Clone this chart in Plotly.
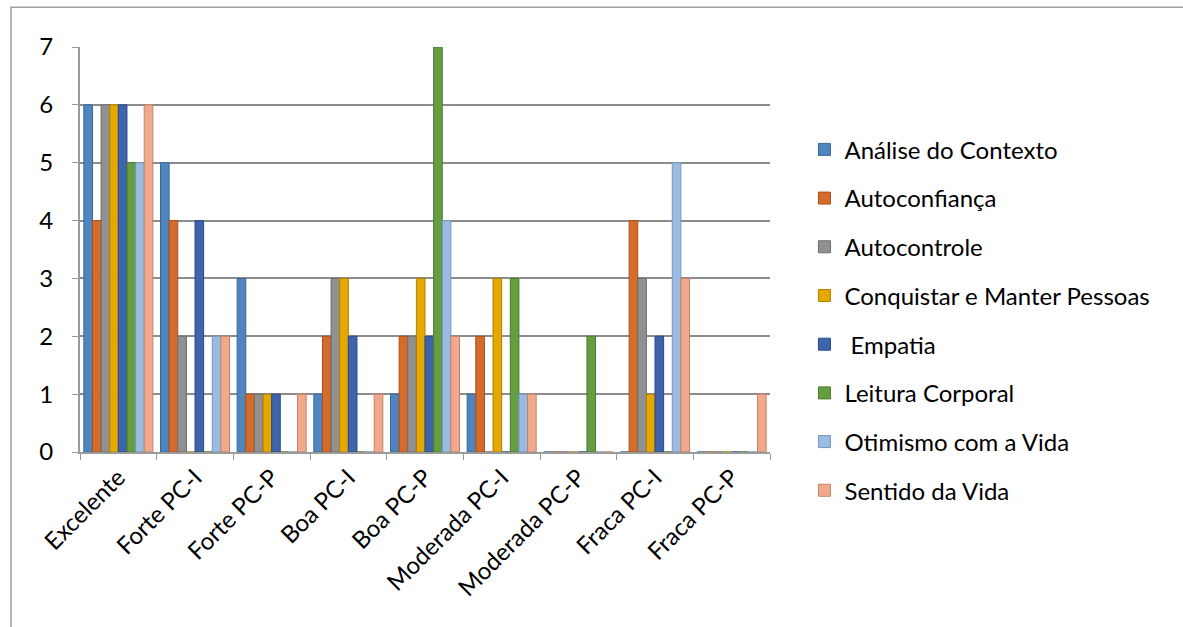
import plotly.graph_objects as go

categories = ["Excelente", "Forte PC-I", "Forte PC-P", "Boa PC-I", "Boa PC-P",
              "Moderada PC-I", "Moderada PC-P", "Fraca PC-I", "Fraca PC-P"]

analise_contexto = [6, 5, 3, 1, 1, 1, 0, 0, 0]
autoconfianca = [4, 4, 1, 2, 2, 2, 0, 4, 0]
autocontrole = [6, 2, 1, 3, 2, 0, 0, 3, 0]
conquistar_manter = [6, 0, 1, 3, 3, 3, 0, 1, 0]
empatia = [6, 4, 1, 2, 2, 0, 0, 2, 0]
leitura_corporal = [5, 0, 0, 0, 7, 3, 2, 0, 0]
otimismo_vida = [5, 2, 0, 0, 4, 1, 0, 5, 0]
sentido_vida = [6, 2, 1, 1, 2, 1, 0, 3, 1]

series = [
    ("Análise do Contexto", analise_contexto, "#4F86BF", "#3A6796"),
    ("Autoconfiança", autoconfianca, "#D66C2B", "#A8501C"),
    ("Autocontrole", autocontrole, "#919191", "#6C6C6C"),
    ("Conquistar e Manter Pessoas", conquistar_manter, "#E5A800", "#B08000"),
    (" Empatia", empatia, "#3D64AD", "#2B4A85"),
    ("Leitura Corporal", leitura_corporal, "#659E40", "#4A7A2D"),
    ("Otimismo com a Vida", otimismo_vida, "#9BBCE2", "#7596BC"),
    ("Sentido da Vida", sentido_vida, "#F1A98B", "#C4826A"),
]

FONT = "Lato, 'Open Sans', sans-serif"

fig = go.Figure()
for i, (name, vals, col, edge) in enumerate(series):
    fig.add_trace(go.Bar(
        name=name, x=categories, y=vals,
        marker=dict(color=col, line=dict(color=edge, width=1)),
        legendgroup=f"g{i}",
    ))

fig.update_layout(
    width=1183, height=627,
    paper_bgcolor="white", plot_bgcolor="white",
    margin=dict(l=80, r=413, t=47, b=175),
    barmode="group", bargap=0.1, bargroupgap=0,
    font=dict(family=FONT, size=24, color="black"),
    showlegend=True,
    legend=dict(
        xref="container", yref="container",
        x=0.68, y=0.797, xanchor="left", yanchor="top",
        font=dict(family=FONT, size=24, color="black"),
        tracegroupgap=14.5, itemwidth=30, maxheight=1,
        bgcolor="rgba(0,0,0,0)",
    ),
    xaxis=dict(
        type="category", tickangle=-45,
        showline=True, linecolor="#9a9a9a", linewidth=2,
        ticks="outside", ticklen=6, tickcolor="#9a9a9a",
        tickson="boundaries",
        tickfont=dict(family=FONT, size=24, color="black"),
        showgrid=False,
    ),
    yaxis=dict(
        range=[0, 7], dtick=1,
        showline=True, linecolor="#9a9a9a", linewidth=2,
        ticks="outside", ticklen=6, tickcolor="#9a9a9a",
        ticklabelstandoff=14,
        showgrid=True, gridcolor="#8c8c8c", gridwidth=2,
        zeroline=False,
        tickfont=dict(family=FONT, size=24, color="black"),
    ),
    shapes=[
        dict(type="rect", xref="paper", yref="paper",
             x0=-0.1, x1=1.6, y0=-0.6, y1=1.098,
             line=dict(color="#a0a0a0", width=1.5), layer="below"),
    ],
)

fig.write_html("out.html")
